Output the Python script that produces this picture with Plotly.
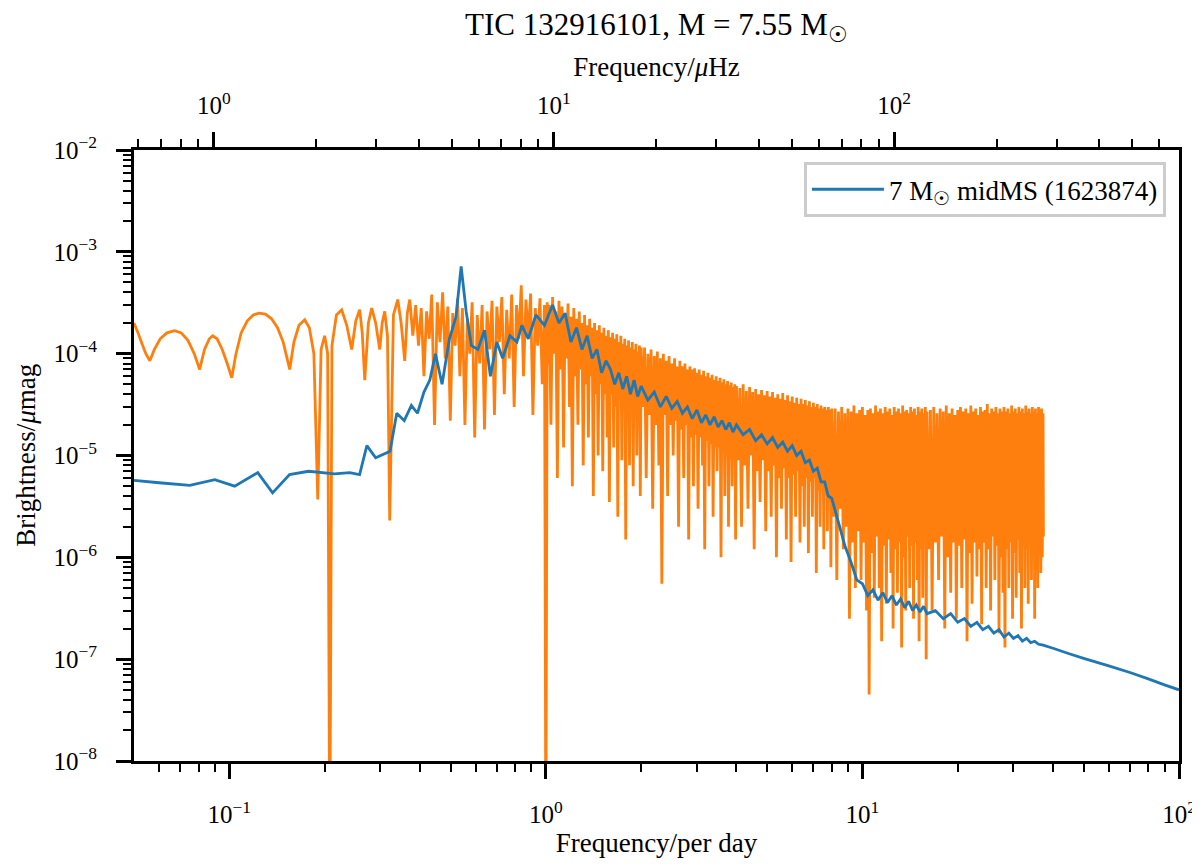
import plotly.graph_objects as go

f_obs_low = [0.0500, 0.0515, 0.0530, 0.0545, 0.0561, 0.0580, 0.0605, 0.0635, 0.0672, 0.0705,
             0.0740, 0.0775, 0.0806, 0.0835, 0.0865, 0.0886, 0.0915, 0.0950, 0.0985, 0.1018,
             0.1050, 0.1090, 0.1140, 0.1190, 0.1240, 0.1300, 0.1360, 0.1420, 0.1480, 0.1552,
             0.1600, 0.1660, 0.1731, 0.1790, 0.1850, 0.1903, 0.1950, 0.2001, 0.2045, 0.2077,
             0.2110, 0.2180, 0.2265, 0.2350, 0.2436, 0.2510, 0.2582, 0.2630, 0.2679, 0.2750,
             0.2818, 0.2900, 0.2987, 0.3040, 0.3098, 0.3160, 0.3212, 0.3300, 0.3405, 0.3490,
             0.3583, 0.3650, 0.3716]
a_obs_low = [2.0e-4, 1.6e-4, 1.25e-4, 1.0e-4, 8.5e-5, 1.1e-4, 1.4e-4, 1.6e-4, 1.68e-4, 1.6e-4,
             1.35e-4, 1.0e-4, 7.0e-5, 1.1e-4, 1.4e-4, 1.5e-4, 1.4e-4, 1.1e-4, 8.0e-5, 5.8e-5,
             1.0e-4, 1.6e-4, 2.1e-4, 2.4e-4, 2.5e-4, 2.45e-4, 2.2e-4, 1.8e-4, 1.3e-4, 7.0e-5,
             1.3e-4, 1.9e-4, 2.15e-4, 1.8e-4, 1.0e-4, 3.7e-6, 1.1e-4, 1.5e-4, 1.0e-4, 1e-9,
             1.2e-4, 2.4e-4, 2.7e-4, 1.9e-4, 1.1e-4, 2.1e-4, 2.7e-4, 1.6e-4, 5.5e-5, 2.0e-4,
             2.8e-4, 2.0e-4, 1.1e-4, 2.0e-4, 2.6e-4, 1.5e-4, 2.3e-6, 2.4e-4, 3.4e-4, 2.0e-4,
             8.5e-5, 2.5e-4, 3.4e-4]

f_obs_0 = [0.380, 0.388, 0.396, 0.404, 0.412, 0.420, 0.428, 0.436, 0.445, 0.454,
           0.463, 0.472, 0.481, 0.490, 0.499, 0.508, 0.517, 0.526, 0.535, 0.545,
           0.555, 0.565, 0.575, 0.585, 0.596, 0.607, 0.618, 0.629, 0.640, 0.652,
           0.664, 0.676, 0.688, 0.700, 0.713, 0.726, 0.739, 0.752, 0.766, 0.780,
           0.794, 0.808, 0.822, 0.836, 0.850, 0.865, 0.880, 0.895, 0.910, 0.926,
           0.942, 0.958, 0.974, 0.990, 1.000, 1.010]
a_obs_0 = [1.5e-4, 3.0e-4, 1.2e-4, 2.8e-4, 6.0e-5, 2.6e-4, 1.4e-4, 3.8e-4, 2.0e-5, 3.2e-4,
           1.3e-4, 4.0e-4, 9.0e-5, 2.9e-4, 2.2e-5, 2.5e-4, 1.2e-4, 3.5e-4, 6.0e-5, 2.8e-4,
           2.0e-5, 2.2e-4, 1.0e-4, 3.2e-4, 1.5e-5, 2.4e-4, 8.0e-5, 3.0e-4, 1.8e-5, 2.6e-4,
           1.1e-4, 3.3e-4, 2.5e-5, 2.9e-4, 1.3e-4, 3.6e-4, 4.0e-5, 2.7e-4, 9.0e-5, 3.8e-4,
           3.0e-5, 3.0e-4, 1.4e-4, 4.7e-4, 6.0e-5, 3.4e-4, 1.5e-4, 3.9e-4, 2.5e-5, 2.8e-4,
           1.2e-4, 3.5e-4, 5.0e-5, 3.0e-4, 1e-9, 3.2e-4]

f_obs_1 = [1.0125, 1.025, 1.0375, 1.05, 1.0625, 1.075, 1.0875, 1.1, 1.1125, 1.125,
           1.1375, 1.15, 1.1625, 1.175, 1.1875, 1.2, 1.2125, 1.225, 1.2375, 1.25,
           1.2625, 1.275, 1.2875, 1.3, 1.3125, 1.325, 1.3375, 1.35, 1.3625, 1.375,
           1.3875, 1.4, 1.4125, 1.425, 1.4375, 1.45, 1.4625, 1.475, 1.4875, 1.5,
           1.5125, 1.525, 1.5375, 1.55, 1.5625, 1.575, 1.5875, 1.6, 1.6125, 1.625,
           1.6375, 1.65, 1.6625, 1.675, 1.6875, 1.7, 1.7125, 1.725, 1.7375, 1.75,
           1.7625, 1.775, 1.7875, 1.8, 1.8125, 1.825, 1.8375, 1.85, 1.8625, 1.875,
           1.8875, 1.9, 1.9125, 1.925, 1.9375, 1.95, 1.9625, 1.975, 1.9875, 2.0]
a_obs_1 = [8.0e-5, 3.0e-4, 2.0e-5, 3.6e-4, 1.0e-4, 2.6e-4, 6.0e-6, 3.3e-4, 7.0e-5, 2.9e-4,
           1.2e-5, 2.5e-4, 9.0e-5, 3.1e-4, 3.0e-5, 2.3e-4, 5.0e-6, 2.8e-4, 6.0e-5, 2.2e-4,
           2.0e-5, 2.6e-4, 7.0e-5, 2.0e-4, 8.0e-6, 2.4e-4, 5.0e-5, 1.9e-4, 1.5e-5, 2.2e-4,
           6.0e-5, 1.8e-4, 4.0e-6, 2.0e-4, 4.0e-5, 1.7e-4, 1.0e-5, 1.9e-4, 5.0e-5, 1.6e-4,
           7.0e-6, 1.8e-4, 4.0e-5, 1.5e-4, 1.5e-5, 1.7e-4, 3.5e-6, 1.45e-4, 4.0e-5, 1.6e-4,
           1.2e-5, 1.4e-4, 3.0e-5, 1.55e-4, 2.5e-6, 1.3e-4, 3.5e-5, 1.5e-4, 9.0e-6, 1.25e-4,
           3.0e-5, 1.4e-4, 1.5e-6, 1.2e-4, 2.5e-5, 1.35e-4, 8.0e-6, 1.15e-4, 3.0e-5, 1.3e-4,
           5.0e-6, 1.1e-4, 2.5e-5, 1.25e-4, 1.0e-5, 1.05e-4, 2.5e-5, 1.2e-4, 4.0e-6, 1.15e-4]

f_obs_2 = [2.025, 2.05, 2.075, 2.1, 2.125, 2.15, 2.175, 2.2, 2.225, 2.25,
           2.275, 2.3, 2.325, 2.35, 2.375, 2.4, 2.425, 2.45, 2.475, 2.5,
           2.525, 2.55, 2.575, 2.6, 2.625, 2.65, 2.675, 2.7, 2.725, 2.75,
           2.775, 2.8, 2.825, 2.85, 2.875, 2.9, 2.925, 2.95, 2.975, 3.0,
           3.025, 3.05, 3.075, 3.1, 3.125, 3.15, 3.175, 3.2, 3.225, 3.25,
           3.275, 3.3, 3.325, 3.35, 3.375, 3.4, 3.425, 3.45, 3.475, 3.5,
           3.525, 3.55, 3.575, 3.6, 3.625, 3.65, 3.675, 3.7, 3.725, 3.75,
           3.775, 3.8, 3.825, 3.85, 3.875, 3.9, 3.925, 3.95, 3.975, 4.0]
a_obs_2 = [3.0e-5, 1.15e-4, 6.0e-6, 1.0e-4, 2.5e-5, 1.1e-4, 3.0e-6, 9.5e-5, 2.0e-5, 1.05e-4,
           8.0e-6, 9.0e-5, 5.5e-7, 1.0e-4, 2.5e-5, 8.5e-5, 4.0e-6, 9.5e-5, 2.0e-5, 8.0e-5,
           1.0e-5, 9.0e-5, 2.2e-5, 7.5e-5, 2.0e-6, 8.5e-5, 1.8e-5, 7.5e-5, 6.0e-6, 8.0e-5,
           2.0e-5, 7.0e-5, 1.5e-6, 7.5e-5, 1.5e-5, 7.0e-5, 5.0e-6, 7.2e-5, 1.6e-5, 6.5e-5,
           3.0e-6, 7.0e-5, 1.5e-5, 6.2e-5, 8.0e-6, 6.8e-5, 1.2e-6, 6.0e-5, 1.4e-5, 6.5e-5,
           5.0e-6, 5.8e-5, 1.3e-5, 6.2e-5, 2.5e-6, 5.5e-5, 1.2e-5, 6.0e-5, 7.0e-6, 5.4e-5,
           1.2e-5, 5.8e-5, 1.0e-6, 5.2e-5, 1.1e-5, 5.6e-5, 4.0e-6, 5.0e-5, 1.0e-5, 5.4e-5,
           2.0e-6, 4.9e-5, 9.0e-6, 5.2e-5, 5.0e-6, 4.7e-5, 1.0e-5, 5.0e-5, 1.5e-6, 4.8e-5]

f_obs_3 = [4.05, 4.1, 4.15, 4.2, 4.25, 4.3, 4.35, 4.4, 4.45, 4.5,
           4.55, 4.6, 4.65, 4.7, 4.75, 4.8, 4.85, 4.9, 4.95, 5.0,
           5.05, 5.1, 5.15, 5.2, 5.25, 5.3, 5.35, 5.4, 5.45, 5.5,
           5.55, 5.6, 5.65, 5.7, 5.75, 5.8, 5.85, 5.9, 5.95, 6.0,
           6.05, 6.1, 6.15, 6.2, 6.25, 6.3, 6.35, 6.4, 6.45, 6.5,
           6.55, 6.6, 6.65, 6.7, 6.75, 6.8, 6.85, 6.9, 6.95, 7.0,
           7.05, 7.1, 7.15, 7.2, 7.25, 7.3, 7.35, 7.4, 7.45, 7.5,
           7.55, 7.6, 7.65, 7.7, 7.75, 7.8, 7.85, 7.9, 7.95, 8.0]
a_obs_3 = [9.0e-6, 4.6e-5, 2.0e-6, 5.0e-5, 8.0e-6, 4.3e-5, 3.0e-6, 4.7e-5, 1.0e-5, 4.2e-5,
           1.2e-6, 4.5e-5, 7.0e-6, 4.0e-5, 3.5e-6, 4.4e-5, 9.0e-6, 3.9e-5, 1.8e-6, 4.3e-5,
           7.0e-6, 3.8e-5, 2.5e-6, 4.2e-5, 8.0e-6, 3.7e-5, 1.0e-6, 4.0e-5, 6.0e-6, 3.6e-5,
           3.0e-6, 4.1e-5, 7.5e-6, 3.5e-5, 1.5e-6, 3.9e-5, 6.0e-6, 3.4e-5, 9.0e-7, 3.8e-5,
           6.5e-6, 3.3e-5, 2.5e-6, 3.7e-5, 7.0e-6, 3.2e-5, 1.4e-6, 3.6e-5, 5.0e-6, 3.2e-5,
           2.0e-6, 3.5e-5, 6.0e-6, 3.1e-5, 1.1e-6, 3.4e-5, 5.5e-6, 3.0e-5, 2.5e-6, 3.3e-5,
           6.0e-6, 3.0e-5, 7.0e-7, 3.2e-5, 4.5e-6, 2.9e-5, 2.0e-6, 3.1e-5, 5.0e-6, 2.9e-5,
           1.2e-6, 3.0e-5, 4.0e-6, 2.8e-5, 1.8e-6, 3.0e-5, 3.5e-6, 2.8e-5, 8.0e-7, 2.9e-5]

f_obs_4 = [8.1, 8.2, 8.3, 8.4, 8.5, 8.6, 8.7, 8.8, 8.9, 9.0,
           9.1, 9.2, 9.3, 9.4, 9.5, 9.6, 9.7, 9.8, 9.9, 10.0,
           10.1, 10.2, 10.3, 10.4, 10.5, 10.6, 10.7, 10.8, 10.9, 11.0,
           11.1, 11.2, 11.3, 11.4, 11.5, 11.6, 11.7, 11.8, 11.9, 12.0,
           12.1, 12.2, 12.3, 12.4, 12.5, 12.6, 12.7, 12.8, 12.9, 13.0,
           13.1, 13.2, 13.3, 13.4, 13.5, 13.6, 13.7, 13.8, 13.9, 14.0,
           14.1, 14.2, 14.3, 14.4, 14.5, 14.6, 14.7, 14.8, 14.9, 15.0,
           15.1, 15.2, 15.3, 15.4, 15.5, 15.6, 15.7, 15.8, 15.9, 16.0]
a_obs_4 = [2.5e-6, 2.9e-5, 6.0e-7, 2.7e-5, 3.0e-6, 3.0e-5, 1.2e-6, 2.6e-5, 2.0e-6, 2.9e-5,
           2.5e-7, 2.7e-5, 1.4e-6, 3.1e-5, 5.0e-7, 2.6e-5, 1.8e-6, 2.8e-5, 6.0e-7, 3.0e-5,
           1.4e-6, 2.5e-5, 3.0e-7, 2.8e-5, 4.5e-8, 2.9e-5, 1.1e-6, 2.6e-5, 4.0e-7, 3.1e-5,
           1.6e-6, 2.7e-5, 5.0e-7, 2.9e-5, 1.5e-7, 2.6e-5, 1.3e-6, 3.0e-5, 3.5e-7, 2.7e-5,
           1.5e-6, 2.9e-5, 7.0e-7, 2.5e-5, 2.0e-7, 3.0e-5, 1.2e-6, 2.7e-5, 4.5e-7, 2.9e-5,
           1.4e-6, 2.6e-5, 1.3e-7, 3.1e-5, 1.0e-6, 2.7e-5, 3.0e-7, 2.8e-5, 1.6e-6, 2.6e-5,
           5.0e-7, 3.0e-5, 1.3e-6, 2.7e-5, 2.5e-7, 2.9e-5, 1.4e-6, 2.5e-5, 6.0e-7, 3.0e-5,
           1.5e-7, 2.7e-5, 1.2e-6, 2.9e-5, 4.0e-7, 2.6e-5, 1.5e-6, 3.0e-5, 1.0e-7, 2.7e-5]

f_obs_5 = [16.2, 16.4, 16.6, 16.8, 17.0, 17.2, 17.4, 17.6, 17.8, 18.0,
           18.2, 18.4, 18.6, 18.8, 19.0, 19.2, 19.4, 19.6, 19.8, 20.0,
           20.2, 20.4, 20.6, 20.8, 21.0, 21.2, 21.4, 21.6, 21.8, 22.0,
           22.2, 22.4, 22.6, 22.8, 23.0, 23.2, 23.4, 23.6, 23.8, 24.0,
           24.2, 24.4, 24.6, 24.8, 25.0, 25.2, 25.4, 25.6, 25.8, 26.0,
           26.2, 26.4, 26.6, 26.8, 27.0, 27.2, 27.4, 27.6, 27.8, 28.0,
           28.2, 28.4, 28.6, 28.8, 29.0, 29.2, 29.4, 29.6, 29.8, 30.0,
           30.2, 30.4, 30.6, 30.8, 31.0, 31.2, 31.4, 31.6, 31.8, 32.0,
           32.2, 32.4, 32.6, 32.8, 33.0, 33.2, 33.4, 33.6, 33.8, 34.0,
           34.2, 34.4, 34.6, 34.8, 35.0, 35.2, 35.4, 35.6, 35.8, 36.0,
           36.2, 36.4, 36.6, 36.8, 37.0, 37.2, 37.3]
a_obs_5 = [1.2e-6, 2.8e-5, 3.0e-7, 3.0e-5, 1.4e-6, 2.6e-5, 6.0e-7, 2.9e-5, 1.6e-6, 2.7e-5,
           2.0e-7, 3.1e-5, 1.0e-6, 2.6e-5, 4.5e-7, 2.9e-5, 1.4e-6, 2.5e-5, 2.5e-7, 2.8e-5,
           1.3e-6, 3.0e-5, 5.0e-7, 2.7e-5, 1.5e-6, 2.9e-5, 1.5e-7, 2.6e-5, 1.1e-6, 3.1e-5,
           3.5e-7, 2.7e-5, 1.4e-6, 2.9e-5, 6.5e-7, 2.5e-5, 1.2e-6, 3.0e-5, 2.2e-7, 2.7e-5,
           1.4e-6, 2.8e-5, 5.0e-7, 3.2e-5, 1.2e-6, 2.6e-5, 3.0e-7, 2.9e-5, 1.6e-6, 2.7e-5,
           6.0e-7, 3.0e-5, 1.3e-6, 2.6e-5, 1.8e-7, 2.9e-5, 1.0e-6, 2.7e-5, 4.5e-7, 3.0e-5,
           1.3e-7, 2.7e-5, 1.2e-6, 2.9e-5, 5.0e-7, 2.6e-5, 1.4e-6, 3.1e-5, 2.5e-7, 2.7e-5,
           1.1e-6, 2.9e-5, 4.0e-7, 2.6e-5, 1.5e-6, 3.0e-5, 7.0e-7, 2.7e-5, 2.0e-7, 2.9e-5,
           1.3e-6, 2.6e-5, 5.0e-7, 3.1e-5, 1.2e-6, 2.7e-5, 3.5e-7, 2.9e-5, 1.4e-6, 2.6e-5,
           6.0e-7, 3.0e-5, 1.1e-6, 2.7e-5, 2.5e-7, 2.9e-5, 1.3e-6, 2.6e-5, 5.0e-7, 3.0e-5,
           1.2e-6, 2.8e-5, 7.0e-7, 2.9e-5, 1.0e-6, 2.6e-5, 1.6e-6]

# model spectrum 7 Msun midMS (blue)
f_mod = [0.050, 0.060, 0.075, 0.090, 0.104, 0.123, 0.137, 0.155, 0.178, 0.215,
         0.240, 0.258, 0.272, 0.290, 0.322, 0.338, 0.357, 0.376, 0.393, 0.412,
         0.430, 0.448, 0.470, 0.496, 0.520, 0.540, 0.560, 0.582, 0.610, 0.640,
         0.668, 0.700, 0.730, 0.770, 0.810, 0.840, 0.880, 0.930, 0.990,
         1.05, 1.10, 1.15, 1.20, 1.25, 1.30, 1.35, 1.40, 1.45, 1.50,
         1.55, 1.60, 1.65, 1.70, 1.75, 1.80, 1.85, 1.90, 1.95, 2.00,
         2.1, 2.2, 2.3, 2.4, 2.5, 2.6, 2.7, 2.8, 2.9, 3.0,
         3.1, 3.2, 3.3, 3.4, 3.5, 3.6, 3.7, 3.8, 3.9, 4.0,
         4.2, 4.4, 4.6, 4.8, 5.0, 5.2, 5.4, 5.6, 5.8, 6.0,
         6.2, 6.4, 6.6, 6.8, 7.0, 7.2, 7.4, 7.6, 7.8, 8.0,
         8.4, 8.8, 9.2, 9.6, 10.0, 10.4, 10.8, 11.2, 11.6, 12.0,
         12.4, 12.8, 13.2, 13.6, 14.0, 14.4, 14.8, 15.2, 15.6, 16.0,
         17, 18, 19, 20, 21, 22, 23, 24, 25, 26,
         27, 28, 29, 30, 31, 32, 33, 34, 35, 36, 37,
         40, 45, 50, 60, 70, 80, 90, 100]
a_mod = [5.7e-6, 5.4e-6, 5.1e-6, 5.8e-6, 5.0e-6, 6.8e-6, 4.3e-6, 6.5e-6, 7.0e-6, 6.6e-6,
         6.8e-6, 6.5e-6, 1.25e-5, 9.5e-6, 1.1e-5, 2.6e-5, 2.2e-5, 3.1e-5, 2.6e-5, 4.2e-5,
         5.5e-5, 1.0e-4, 5.0e-5, 1.4e-4, 2.3e-4, 7.2e-4, 2.6e-4, 1.2e-4, 1.1e-4, 1.7e-4,
         6.0e-5, 1.3e-4, 9.0e-5, 1.5e-4, 1.3e-4, 1.9e-4, 1.4e-4, 2.4e-4, 1.9e-4,
         3.0e-4, 2.0e-4, 2.5e-4, 1.3e-4, 1.8e-4, 1.1e-4, 1.5e-4, 9.0e-5, 1.1e-4, 6.5e-5,
         8.5e-5, 7.0e-5, 5.0e-5, 6.5e-5, 4.5e-5, 6.0e-5, 4.0e-5, 5.5e-5, 3.8e-5, 4.8e-5,
         3.5e-5, 4.2e-5, 3.0e-5, 3.8e-5, 2.9e-5, 3.4e-5, 2.6e-5, 3.0e-5, 2.3e-5, 2.8e-5,
         2.1e-5, 2.5e-5, 2.0e-5, 2.4e-5, 1.9e-5, 2.2e-5, 1.8e-5, 2.1e-5, 1.7e-5, 2.0e-5,
         1.6e-5, 1.8e-5, 1.4e-5, 1.6e-5, 1.3e-5, 1.5e-5, 1.2e-5, 1.35e-5, 1.1e-5, 1.25e-5,
         1.0e-5, 1.1e-5, 8.5e-6, 9.0e-6, 7.0e-6, 7.5e-6, 5.5e-6, 5.5e-6, 4.0e-6, 3.8e-6,
         2.2e-6, 1.3e-6, 9.0e-7, 6.0e-7, 5.5e-7, 4.2e-7, 4.8e-7, 3.8e-7, 4.5e-7, 3.6e-7,
         4.2e-7, 3.4e-7, 3.9e-7, 3.2e-7, 3.7e-7, 3.0e-7, 3.4e-7, 2.9e-7, 3.3e-7, 2.8e-7,
         3.0e-7, 2.5e-7, 2.8e-7, 2.3e-7, 2.5e-7, 2.1e-7, 2.3e-7, 1.95e-7, 2.1e-7, 1.8e-7,
         1.95e-7, 1.65e-7, 1.8e-7, 1.6e-7, 1.7e-7, 1.5e-7, 1.6e-7, 1.45e-7, 1.5e-7, 1.4e-7, 1.38e-7,
         1.28e-7, 1.13e-7, 1.02e-7, 8.6e-8, 7.4e-8, 6.4e-8, 5.6e-8, 5.0e-8]

# ticks
x_ticks = [0.1, 1, 10, 100]
x_tick_text = ['10<sup>−1</sup>', '10<sup>0</sup>', '10<sup>1</sup>', '10<sup>2</sup>']
x_minor = [0.06, 0.07, 0.08, 0.09, 0.2, 0.3, 0.4, 0.5, 0.6, 0.7, 0.8, 0.9,
           2, 3, 4, 5, 6, 7, 8, 9, 20, 30, 40, 50, 60, 70, 80, 90]
top_ticks = [1, 10, 100]
top_tick_text = ['10<sup>0</sup>', '10<sup>1</sup>', '10<sup>2</sup>']
top_minor = [0.6, 0.7, 0.8, 0.9, 2, 3, 4, 5, 6, 7, 8, 9,
             20, 30, 40, 50, 60, 70, 80, 90, 200, 300, 400, 500, 600]
y_ticks = [1e-8, 1e-7, 1e-6, 1e-5, 1e-4, 1e-3, 1e-2]
y_tick_text = ['10<sup>−8</sup>', '10<sup>−7</sup>', '10<sup>−6</sup>', '10<sup>−5</sup>',
               '10<sup>−4</sup>', '10<sup>−3</sup>', '10<sup>−2</sup>']
y_minor = [k * 10.0 ** e for e in range(-8, -2) for k in range(2, 10)]

f_obs = f_obs_low + f_obs_0 + f_obs_1 + f_obs_2 + f_obs_3 + f_obs_4 + f_obs_5
a_obs = a_obs_low + a_obs_0 + a_obs_1 + a_obs_2 + a_obs_3 + a_obs_4 + a_obs_5

FONT = 'Liberation Serif, Times New Roman, serif'

fig = go.Figure()
fig.add_trace(go.Scatter(x=f_obs, y=a_obs, mode='lines', showlegend=False,
                         line=dict(color='#ff7f0e', width=2.8, simplify=False)))
fig.add_trace(go.Scatter(x=f_mod, y=a_mod, mode='lines', name='7 M<sub>☉</sub> midMS (1623874)',
                         line=dict(color='#1f77b4', width=2.8, simplify=False)))
# carrier for the top (muHz) axis
fig.add_trace(go.Scatter(x=[None], y=[None], xaxis='x2', showlegend=False, hoverinfo='skip'))

axis_common = dict(showline=True, linecolor='black', linewidth=3, showgrid=False, zeroline=False,
                   ticks='outside', ticklen=15, tickwidth=2.5, tickcolor='black',
                   tickfont=dict(family=FONT, size=25, color='black'))

# page body adds an 8 px offset, so the margins are shifted to compensate
fig.update_layout(
    width=1200, height=864,
    margin=dict(l=126, r=29, t=142, b=111),
    paper_bgcolor='white', plot_bgcolor='white',
    font=dict(family=FONT, size=25, color='black'),
    title=dict(text='TIC 132916101, M = 7.55 M<sub>☉</sub>', x=0.5, xref='paper', xanchor='center',
               y=0.981, yref='container', yanchor='middle', font=dict(family=FONT, size=31)),
    xaxis=dict(type='log', range=[-1.30103, 2], tickmode='array', tickvals=x_ticks,
               ticktext=x_tick_text, ticklabelstandoff=14,
               minor=dict(tickmode='array', tickvals=x_minor, ticks='outside', ticklen=8,
                          tickwidth=2, tickcolor='black'),
               title=dict(text='Frequency/per day', font=dict(family=FONT, size=27), standoff=2),
               **axis_common),
    xaxis2=dict(type='log', range=[-0.2344, 2.837], overlaying='x', side='top', anchor='y',
                tickmode='array', tickvals=top_ticks, ticktext=top_tick_text, ticklabelstandoff=8,
                minor=dict(tickmode='array', tickvals=top_minor, ticks='outside', ticklen=8,
                           tickwidth=2, tickcolor='black'),
                title=dict(text='Frequency/<i>μ</i>Hz', font=dict(family=FONT, size=27), standoff=4),
                **axis_common),
    yaxis=dict(type='log', range=[-8, -2], tickmode='array', tickvals=y_ticks,
               ticktext=y_tick_text, mirror=True, ticklabelstandoff=14,
               minor=dict(tickmode='array', tickvals=y_minor, ticks='outside', ticklen=8,
                          tickwidth=2, tickcolor='black'),
               **axis_common),
    legend=dict(x=0.9875, y=0.980, xanchor='right', yanchor='top', bgcolor='white',
                bordercolor='#cccccc', borderwidth=3, itemwidth=72,
                font=dict(family=FONT, size=27, color='black')),
    annotations=[dict(text='Brightness/<i>μ</i>mag', xref='paper', yref='paper', x=-0.104, y=0.5,
                      xanchor='center', yanchor='middle', textangle=-90, showarrow=False,
                      font=dict(family=FONT, size=27, color='black'))],
)

fig.write_html('out.html')
